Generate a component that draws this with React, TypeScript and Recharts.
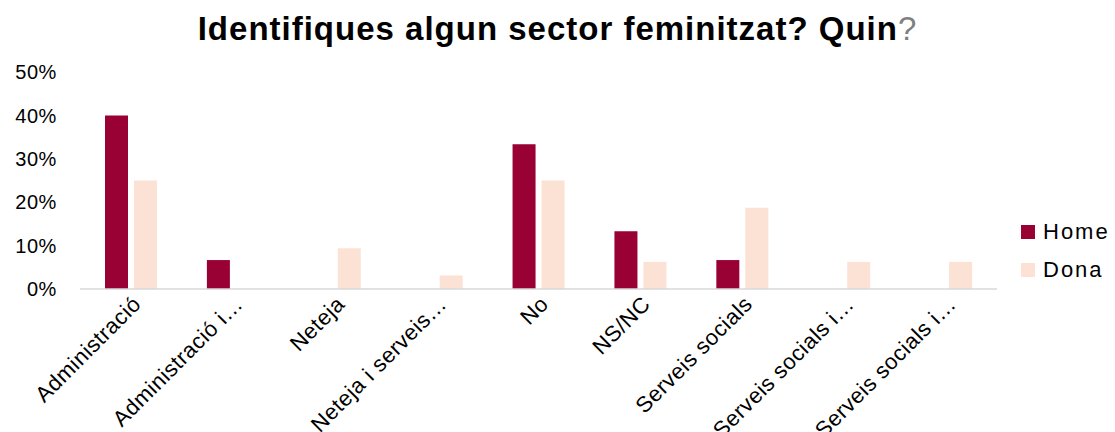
import { BarChart, Bar, XAxis, YAxis } from "recharts";

const categories = [
  "Administració",
  "Administració i…",
  "Neteja",
  "Neteja i serveis…",
  "No",
  "NS/NC",
  "Serveis socials",
  "Serveis socials i…",
  "Serveis socials i…",
];
const home = [40, 6.67, 0, 0, 33.33, 13.33, 6.67, 0, 0];
const dona = [25, 0, 9.38, 3.13, 25, 6.25, 18.75, 6.25, 6.25];
const yTicks = [0, 10, 20, 30, 40, 50];

const HOME_COLOR = "#990033";
const DONA_COLOR = "#fbe2d5";
const FONT = "Liberation Sans, Arial, sans-serif";

const data = categories.map((c, i) => ({ name: c, key: i, Home: home[i], Dona: dona[i] }));

const AngledTick = (props: any) => {
  const { x, y, payload } = props;
  return (
    <g transform={`translate(${x},${y})`}>
      <text
        x={0}
        y={0}
        dx={2}
        dy={14}
        textAnchor="end"
        transform="rotate(-45)"
        fontSize={22}
        letterSpacing={0.5}
        fill="#000"
        fontFamily={FONT}
      >
        {categories[payload.value]}
      </text>
    </g>
  );
};

export default function App() {
  return (
    <div style={{ position: "absolute", left: 0, top: 0, width: 1115, height: 432, background: "#fff" }}>
      <div
        style={{
          position: "absolute",
          top: 9,
          left: 0,
          width: 1115,
          textAlign: "center",
          fontFamily: FONT,
          fontWeight: 700,
          fontSize: 33,
          letterSpacing: 1,
          color: "#000",
          lineHeight: "40px",
        }}
      >
        Identifiques algun sector feminitzat? Quin<span style={{ color: "#7f7f7f", fontWeight: 400 }}>?</span>
      </div>
      <BarChart
        width={1115}
        height={432}
        data={data}
        margin={{ top: 72, right: 118, left: 10, bottom: 13 }}
        barSize={23}
        barGap={6}
      >
        <XAxis
          dataKey="key"
          interval={0}
          tick={<AngledTick />}
          tickLine={false}
          axisLine={{ stroke: "#d9d9d9", strokeWidth: 1.5 }}
          height={130}
        />
        <YAxis
          domain={[0, 50]}
          ticks={yTicks}
          tickFormatter={(v: number) => `${v}%`}
          axisLine={false}
          tickLine={false}
          tickSize={0}
          tickMargin={23}
          width={70}
          tick={{ fontSize: 20, fill: "#000", fontFamily: FONT, letterSpacing: 0.6 }}
        />
        <Bar dataKey="Home" fill={HOME_COLOR} isAnimationActive={false} />
        <Bar dataKey="Dona" fill={DONA_COLOR} isAnimationActive={false} />
      </BarChart>
      <div
        style={{
          position: "absolute",
          left: 1021,
          top: 213,
          fontFamily: FONT,
          fontSize: 22,
          letterSpacing: 2,
          color: "#000",
        }}
      >
        {[
          ["Home", HOME_COLOR],
          ["Dona", DONA_COLOR],
        ].map(([label, color]) => (
          <div key={label} style={{ display: "flex", alignItems: "center", height: 38 }}>
            <span style={{ width: 14, height: 14, background: color, marginRight: 8, display: "inline-block" }} />
            <span>{label}</span>
          </div>
        ))}
      </div>
    </div>
  );
}
